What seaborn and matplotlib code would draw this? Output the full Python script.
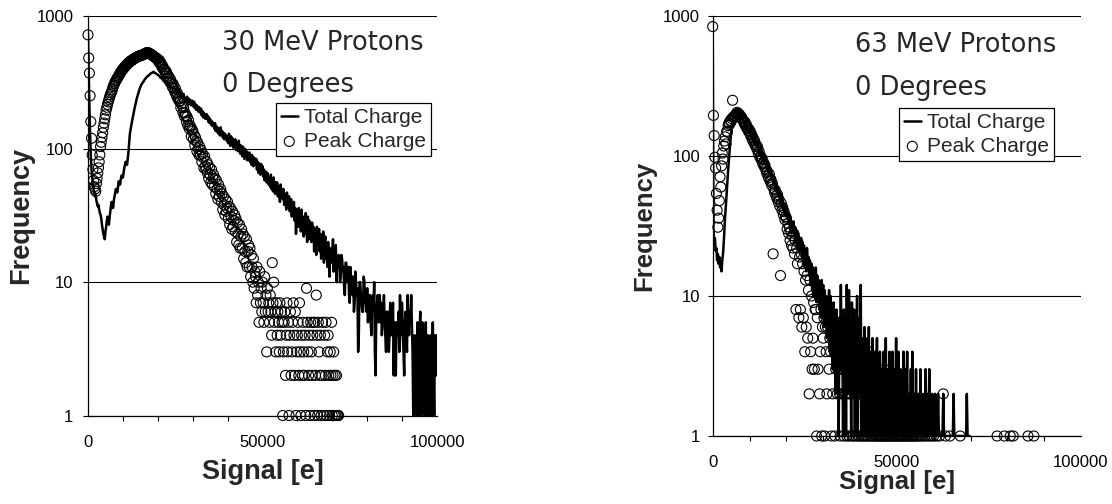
import numpy as np
import pandas as pd
import matplotlib
matplotlib.use("Agg")
import matplotlib.pyplot as plt
from matplotlib.ticker import FixedLocator, FixedFormatter, MultipleLocator, NullLocator
import seaborn as sns

# ---------------- data (histogram counts, bin width 200 e) ----------------
BIN_WIDTH = 200

L_TOTAL = [
    740, 400, 210, 130, 90, 70, 62, 55, 50, 47,
    44, 46, 41, 39, 37, 38, 35, 33, 32, 30,
    27, 25, 23, 22, 21, 24, 26, 29, 31, 28,
    27, 31, 34, 38, 40, 37, 36, 41, 44, 47,
    50, 48, 47, 52, 57, 55, 54, 59, 63, 61,
    61, 66, 72, 76, 80, 78, 76, 85, 95, 112,
    130, 140, 150, 160, 170, 182, 195, 205, 215, 228,
    240, 250, 262, 272, 282, 290, 300, 306, 312, 318,
    322, 330, 335, 340, 345, 350, 352, 356, 360, 365,
    368, 370, 372, 375, 378, 374, 370, 368, 365, 362,
    360, 356, 352, 348, 340, 342, 338, 330, 325, 320,
    318, 322, 322, 312, 305, 302, 300, 296, 292, 290,
    288, 284, 280, 286, 285, 276, 270, 266, 262, 270,
    275, 255, 268, 244, 262, 250, 238, 258, 242, 236,
    240, 228, 246, 222, 238, 216, 234, 226, 212, 230,
    220, 208, 226, 202, 216, 196, 212, 200, 190, 206,
    198, 186, 200, 178, 192, 172, 186, 176, 168, 182,
    182, 166, 176, 158, 170, 156, 164, 150, 160, 148,
    152, 142, 156, 136, 148, 134, 144, 130, 140, 126,
    145, 128, 136, 122, 132, 118, 130, 120, 126, 114,
    122, 110, 130, 118, 105, 124, 112, 120, 102, 114,
    108, 118, 98, 112, 104, 96, 115, 100, 92, 106,
    98, 88, 104, 92, 84, 100, 90, 96, 82, 93,
    86, 94, 80, 88, 76, 90, 84, 74, 86, 78,
    76, 84, 70, 80, 66, 78, 72, 64, 77, 68,
    74, 62, 70, 58, 68, 64, 56, 66, 60, 54,
    60, 52, 64, 50, 58, 48, 61, 52, 46, 56,
    50, 56, 44, 52, 47, 40, 54, 45, 50, 42,
    50, 38, 46, 42, 35, 47, 40, 36, 44, 34,
    36, 42, 31, 38, 33, 40, 29, 36, 23, 34,
    34, 26, 36, 29, 32, 24, 35, 27, 31, 22,
    30, 23, 33, 26, 20, 31, 24, 29, 21, 27,
    20, 28, 22, 26, 17, 25, 21, 16, 26, 19,
    21, 25, 17, 23, 15, 22, 18, 24, 14, 20,
    22, 15, 19, 13, 20, 16, 11, 18, 14, 17,
    16, 21, 12, 17, 14, 19, 10, 15, 13, 16,
    15, 10, 11, 16, 15, 12, 13, 9, 8, 14,
    14, 10, 12, 13, 8, 7, 13, 10, 11, 8,
    11, 6, 7, 12, 10, 8, 9, 3, 4, 10,
    10, 8, 7, 6, 6, 11, 10, 7, 7, 6,
    9, 5, 6, 8, 8, 5, 4, 7, 8, 6,
    10, 3, 2, 6, 7, 8, 5, 6, 8, 5,
    7, 4, 5, 6, 8, 5, 4, 3, 6, 4,
    6, 3, 4, 7, 5, 4, 6, 7, 2, 5,
    2, 2, 5, 4, 4, 6, 3, 8, 4, 7,
    7, 4, 3, 2, 5, 6, 4, 3, 8, 5,
    4, 6, 5, 8, 5, 3, 1, 1, 4, 3,
    3, 1, 5, 2, 1, 4, 6, 1, 2, 5,
    4, 1, 1, 3, 5, 1, 2, 4, 1, 3,
    2, 4, 1, 3, 5, 2, 1, 4, 3, 2,
    4,
]

L_PEAK = [
    716, 480, 370, 250, 160, 120, 90, 70, 58, 52,
    50, 48, 55, 60, 66, 72, 80, 90, 104, 112,
    122, 132, 145, 156, 168, 180, 195, 205, 215, 225,
    235, 245, 255, 262, 270, 280, 293, 300, 310, 318,
    325, 332, 340, 346, 352, 360, 370, 376, 382, 390,
    395, 402, 408, 414, 420, 425, 430, 436, 440, 446,
    450, 455, 458, 462, 466, 470, 474, 478, 481, 484,
    487, 490, 493, 495, 498, 500, 502, 504, 506, 508,
    512, 515, 518, 522, 525, 528, 525, 522, 520, 516,
    512, 508, 504, 500, 495, 490, 486, 482, 478, 472,
    470, 452, 462, 438, 446, 430, 410, 418, 396, 392,
    392, 370, 380, 366, 340, 352, 338, 318, 334, 310,
    312, 290, 306, 282, 270, 286, 258, 248, 262, 236,
    240, 226, 230, 204, 218, 210, 188, 204, 176, 186,
    178, 160, 174, 150, 164, 142, 150, 146, 124, 140,
    136, 118, 128, 106, 122, 114, 96, 112, 100, 90,
    104, 90, 98, 80, 92, 86, 72, 88, 74, 70,
    80, 66, 76, 60, 72, 64, 56, 70, 54, 60,
    64, 52, 60, 46, 58, 50, 42, 54, 44, 48,
    50, 40, 46, 35, 44, 38, 32, 42, 34, 36,
    40, 30, 37, 27, 36, 31, 25, 34, 26, 29,
    32, 24, 30, 20, 28, 23, 19, 27, 18, 22,
    25, 18, 23, 15, 22, 17, 14, 21, 13, 17,
    19, 13, 18, 11, 16, 13, 10, 15, 9, 12,
    11, 7, 13, 8, 10, 5, 12, 7, 9, 6,
    10, 7, 5, 11, 6, 8, 3, 9, 6, 7,
    5, 8, 6, 4, 14, 7, 10, 5, 6, 3,
    7, 4, 6, 5, 3, 7, 4, 6, 5, 1,
    3, 5, 6, 2, 4, 7, 3, 5, 1, 4,
    6, 2, 3, 5, 7, 4, 2, 6, 1, 3,
    4, 5, 2, 7, 3, 1, 4, 2, 5, 3,
    2, 4, 1, 9, 5, 3, 2, 4, 1, 5,
    3, 2, 4, 5, 1, 5, 2, 8, 4, 1,
    5, 3, 2, 4, 1, 2, 5, 0, 1, 4,
    2, 5, 1, 3, 4, 2, 1, 3, 2, 5,
    1, 2, 3, 1, 2, 1, 2, 1, 1, 1,
]

R_TOTAL = [
    840, 30, 24, 26, 21, 22, 18, 20, 17, 19,
    16, 17, 15, 18, 20, 24, 30, 38, 45, 55,
    68, 80, 95, 110, 128, 148, 165, 180, 192, 200,
    205, 208, 210, 204, 200, 196, 206, 190, 185, 192,
    180, 186, 170, 176, 165, 172, 160, 154, 162, 148,
    150, 142, 156, 138, 130, 144, 126, 132, 120, 128,
    118, 126, 110, 104, 116, 100, 108, 96, 92, 102,
    94, 88, 96, 84, 80, 90, 76, 82, 72, 78,
    70, 74, 66, 62, 70, 58, 64, 55, 60, 52,
    56, 50, 46, 54, 44, 48, 41, 46, 38, 44,
    42, 36, 40, 33, 38, 30, 36, 28, 33, 31,
    34, 27, 31, 24, 29, 22, 28, 21, 26, 23,
    26, 19, 24, 17, 23, 16, 21, 15, 22, 17,
    19, 14, 18, 12, 17, 11, 16, 10, 15, 12,
    16, 9, 14, 10, 13, 8, 12, 7, 13, 9,
    12, 6, 11, 8, 10, 5, 9, 7, 11, 4,
    10, 5, 8, 3, 9, 6, 7, 2, 8, 5,
    6, 1, 7, 4, 12, 3, 5, 1, 8, 2,
    7, 1, 12, 4, 2, 11, 3, 6, 1, 9,
    5, 2, 8, 1, 6, 3, 10, 1, 4, 7,
    2, 12, 1, 5, 3, 1, 6, 2, 4, 1,
    5, 2, 6, 1, 3, 4, 1, 5, 2, 3,
    1, 4, 2, 5, 1, 3, 1, 4, 2, 1,
    3, 1, 4, 2, 1, 5, 1, 2, 3, 1,
    4, 1, 2, 1, 4, 1, 3, 1, 2, 5,
    1, 2, 4, 1, 1, 3, 1, 2, 1, 4,
    1, 3, 1, 2, 4, 1, 1, 2, 1, 3,
    1, 4, 1, 1, 2, 1, 3, 1, 1, 2,
    1, 1, 3, 1, 2, 1, 1, 2, 1, 3,
    1, 2, 1, 1, 3, 1, 1, 1, 2, 1,
    1, 1, 2, 1, 1, 1, 2, 1, 1, 1,
    1, 1, 1, 2, 1, 1, 1, 1, 1, 1,
    1, 1, 1, 1, 1, 1, 1, 2, 1, 1,
    1, 1, 1, 1, 1, 1, 1, 1, 1, 1,
    1, 1, 1, 1, 1, 2, 1, 1, 1, 1,
]

R_PEAK = [
    840, 195, 140, 98, 82, 54, 41, 31, 36, 48,
    71, 60, 85, 105, 95, 118, 128, 137, 122, 150,
    148, 165, 172, 168, 180, 176, 185, 250, 190, 188,
    195, 192, 200, 205, 198, 202, 194, 196, 188, 190,
    185, 180, 176, 170, 174, 162, 166, 158, 152, 156,
    146, 150, 138, 142, 130, 134, 124, 128, 118, 120,
    112, 116, 104, 108, 98, 100, 94, 96, 88, 90,
    84, 86, 80, 76, 78, 72, 70, 74, 66, 68,
    62, 64, 20, 58, 55, 57, 52, 50, 53, 47,
    49, 44, 14, 46, 41, 43, 38, 40, 35, 37,
    36, 30, 33, 28, 31, 25, 29, 23, 27, 22,
    28, 20, 25, 8, 22, 17, 24, 7, 19, 8,
    20, 6, 17, 7, 15, 4, 13, 6, 14, 5,
    11, 2, 13, 4, 10, 3, 5, 9, 3, 8,
    8, 1, 7, 3, 10, 2, 4, 8, 1, 6,
    5, 7, 1, 6, 4, 2, 6, 8, 3, 5,
    4, 1, 6, 2, 5, 4, 1, 3, 5, 2,
    3, 4, 2, 1, 3, 4, 2, 3, 1, 4,
    2, 3, 1, 4, 2, 1, 3, 2, 4, 1,
    3, 1, 2, 4, 1, 2, 3, 1, 2, 1,
    2, 4, 1, 3, 1, 2, 1, 3, 2, 1,
    1, 2, 4, 1, 2, 1, 3, 1, 2, 1,
    2, 1, 3, 1, 1, 2, 1, 2, 1, 1,
    1, 2, 1, 3, 1, 1, 2, 1, 1, 2,
    1, 1, 2, 1, 0, 1, 2, 1, 1, 0,
    1, 2, 1, 0, 1, 1, 0, 1, 1, 0,
    1, 0, 1, 1, 0, 1, 0, 1, 0, 1,
    0, 1, 1, 0, 1, 0, 1, 0, 1, 0,
    1, 0, 0, 1, 0, 1, 0, 0, 1, 0,
    0, 1, 0, 0, 1, 0, 0, 1, 0, 0,
    1, 0, 0, 0, 1, 0, 0, 0, 1, 0,
    0, 0, 0, 2, 0, 0, 1, 0, 0, 0,
    0, 0, 1, 0, 0, 0, 0, 0, 0, 0,
    0, 0, 0, 0, 0, 0, 1, 0, 0, 0,
    0, 0, 0, 0, 0, 0, 0, 0, 0, 0,
    0, 0, 0, 0, 0, 0, 0, 0, 0, 0,
    0, 0, 0, 0, 0, 0, 0, 0, 0, 0,
    0, 0, 0, 0, 0, 0, 0, 0, 0, 0,
    0, 0, 0, 0, 0, 0, 1, 0, 0, 0,
    0, 0, 0, 0, 0, 0, 1, 0, 0, 0,
    0, 0, 0, 0, 1, 0, 0, 0, 1, 0,
    0, 0, 0, 0, 0, 0, 0, 0, 0, 0,
    0, 0, 0, 0, 0, 0, 0, 0, 1, 0,
    0, 0, 0, 0, 0, 0, 1, 0, 0, 0,
]

TITLES = [("30 MeV Protons", "0 Degrees"), ("63 MeV Protons", "0 Degrees")]
SERIES_NAMES = ["Total Charge", "Peak Charge"]
Y_TICKS = [1, 10, 100, 1000]
X_TICKS = [0, 50000, 100000]
X_LABEL = "Signal [e]"
Y_LABEL = "Frequency"

# ---------------- style ----------------
sns.set_style("white")
plt.rcParams["font.family"] = ["Liberation Sans", "DejaVu Sans"]


def frame(counts):
    s = np.arange(len(counts)) * BIN_WIDTH
    return pd.DataFrame({"signal": s, "count": counts})


fig = plt.figure(figsize=(11.12, 5.04), dpi=100)
W, H = 1112, 504
ax1 = fig.add_axes([88 / W, (H - 415.5) / H, 349 / W, 400 / H])
ax2 = fig.add_axes([712.7 / W, (H - 436) / H, 368.3 / W, 420 / H])

panels = [
    dict(ax=ax1, total=L_TOTAL, peak=L_PEAK, titles=TITLES[0],
         leg=(0.983, 0.781), ylab_x=-0.192, xlab_y=-0.141, xpad=10.5, ypad=7,
         tx=0.384, ty=(0.914, 0.81), lab_fs=19.5),
    dict(ax=ax2, total=R_TOTAL, peak=R_PEAK, titles=TITLES[1],
         leg=(0.927, 0.781), ylab_x=-0.187, xlab_y=-0.110, xpad=10, ypad=5.5,
         tx=0.386, ty=(0.914, 0.812), lab_fs=18.5),
]

for p in panels:
    ax = p["ax"]
    dt = frame(p["total"])
    dp = frame(p["peak"])
    dp = dp[dp["count"] > 0]

    sns.lineplot(data=dt, x="signal", y="count", ax=ax, color="black",
                 linewidth=1.8, label=SERIES_NAMES[0], zorder=3)
    sns.scatterplot(data=dp, x="signal", y="count", ax=ax, marker="o", s=52,
                    facecolor="none", edgecolor="black", linewidth=0.8,
                    label=SERIES_NAMES[1], clip_on=False, zorder=4)

    ax.set_yscale("log")
    ax.set_ylim(1, 1000)
    ax.set_xlim(0, 100000)
    ax.yaxis.set_major_locator(FixedLocator(Y_TICKS))
    ax.yaxis.set_major_formatter(FixedFormatter([str(v) for v in Y_TICKS]))
    ax.yaxis.set_minor_locator(NullLocator())
    ax.xaxis.set_major_locator(FixedLocator(X_TICKS))
    ax.xaxis.set_major_formatter(FixedFormatter([str(v) for v in X_TICKS]))
    ax.xaxis.set_minor_locator(MultipleLocator(10000))

    ax.yaxis.grid(True, which="major", color="black", linewidth=0.8)
    ax.xaxis.grid(False)
    for side in ("top", "right"):
        ax.spines[side].set_visible(False)
    for side in ("left", "bottom"):
        ax.spines[side].set_color("black")
        ax.spines[side].set_linewidth(0.9)

    ax.tick_params(axis="both", which="both", direction="out", length=3.6,
                   width=0.8, color="black", labelsize=12, labelcolor="black")
    ax.tick_params(axis="x", which="major", pad=p["xpad"])
    ax.tick_params(axis="y", which="major", pad=p["ypad"], left=True)
    ax.tick_params(axis="x", which="minor", bottom=True)

    ax.set_xlabel(X_LABEL, fontsize=p["lab_fs"], fontweight="bold", va="center")
    ax.set_ylabel(Y_LABEL, fontsize=p["lab_fs"], fontweight="bold", va="center")
    ax.xaxis.set_label_coords(0.5, p["xlab_y"])
    ax.yaxis.set_label_coords(p["ylab_x"], 0.5)

    for txt, ty in zip(p["titles"], p["ty"]):
        ax.text(p["tx"], ty, txt, transform=ax.transAxes,
                fontsize=18.5, family="DejaVu Sans", va="baseline", ha="left")

    leg = ax.legend(loc="upper right", bbox_to_anchor=p["leg"], borderaxespad=0,
                    frameon=True, fancybox=False, framealpha=1, edgecolor="black",
                    fontsize=15, handlelength=0.8, handletextpad=0.3,
                    borderpad=0.25, labelspacing=0.22)
    leg.get_frame().set_linewidth(0.9)
    leg.set_zorder(10)

fig.savefig("out.png", dpi=100, facecolor="white")
